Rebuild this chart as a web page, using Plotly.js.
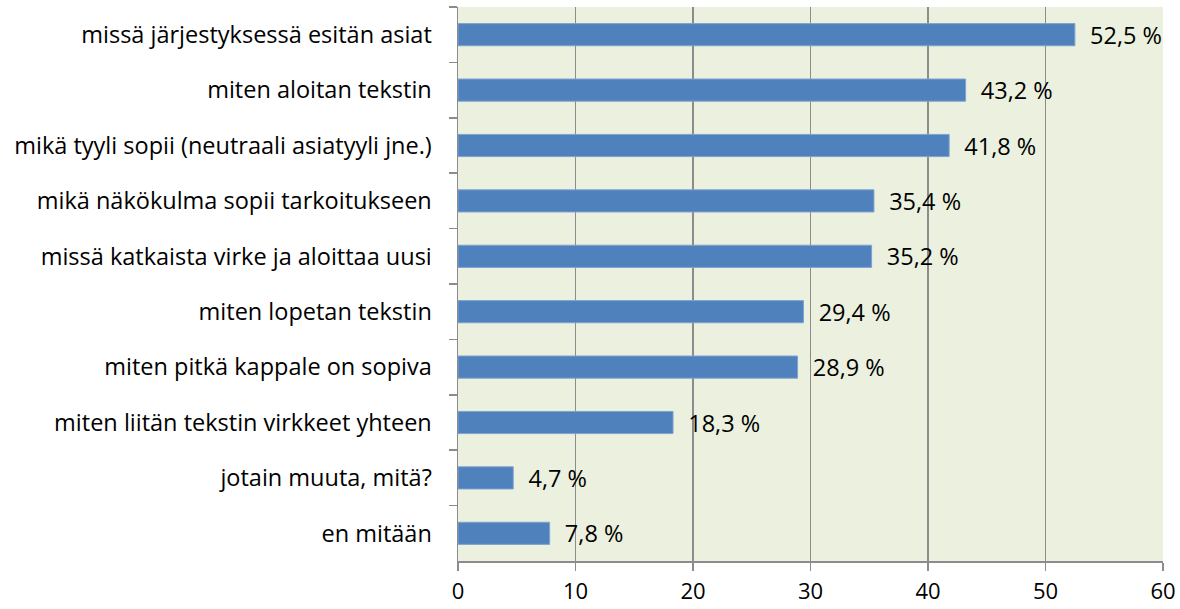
<!DOCTYPE html>
<html>
<head>
<meta charset="utf-8">
<script src="https://cdn.plot.ly/plotly-3.0.1.min.js"></script>
<style>html,body{margin:0;padding:0;background:#fff;}#chart{width:1180px;height:609px;}</style>
</head>
<body>
<div id="chart"></div>
<script>
const categories = [
  "missä järjestyksessä esitän asiat",
  "miten aloitan tekstin",
  "mikä tyyli sopii (neutraali asiatyyli jne.)",
  "mikä näkökulma sopii tarkoitukseen",
  "missä katkaista virke ja aloittaa uusi",
  "miten lopetan tekstin",
  "miten pitkä kappale on sopiva",
  "miten liitän tekstin virkkeet yhteen",
  "jotain muuta, mitä?",
  "en mitään"
];
const values = [52.5, 43.2, 41.8, 35.4, 35.2, 29.4, 28.9, 18.3, 4.7, 7.8];
const xTicks = [0, 10, 20, 30, 40, 50, 60];

const font = "'Open Sans', sans-serif";
const fs = 23.5;
Plotly.newPlot("chart", [{
  type: "bar",
  orientation: "h",
  y: categories,
  x: values,
  marker: {color: "#4F81BD", line: {color: "#7FA3D0", width: 1}},
  texttemplate: "\u00a0\u00a0%{x:.1f} %",
  textposition: "outside",
  constraintext: "none",
  cliponaxis: false,
  textfont: {family: font, size: fs, color: "#000"},
  hoverinfo: "none"
}], {
  width: 1180, height: 609,
  margin: {l: 458, r: 17, t: 7, b: 48},
  paper_bgcolor: "#fff",
  plot_bgcolor: "#EBF1DE",
  separators: ", ",
  bargap: 0.6,
  showlegend: false,
  font: {family: font, size: fs, color: "#000"},
  xaxis: {
    range: [0, 60],
    tickvals: xTicks,
    ticktext: xTicks.map(String),
    showgrid: true, gridcolor: "#8C8C8C", gridwidth: 1.5,
    zeroline: false,
    showline: true, linecolor: "#8C8C8C", linewidth: 1.5,
    ticks: "outside", ticklen: 8, tickcolor: "#8C8C8C", tickwidth: 1.5,
    ticklabelstandoff: 2,
    tickfont: {family: font, size: 22, color: "#000"},
    fixedrange: true
  },
  yaxis: {
    autorange: "reversed",
    type: "category",
    tickson: "boundaries",
    showgrid: false,
    showline: true, linecolor: "#8C8C8C", linewidth: 1.5,
    ticks: "outside", ticklen: 8, tickcolor: "#8C8C8C", tickwidth: 1.5,
    ticklabelstandoff: 20,
    tickfont: {family: font, size: fs, color: "#000"},
    fixedrange: true
  }
}, {displayModeBar: false, staticPlot: true});
</script>
</body>
</html>
